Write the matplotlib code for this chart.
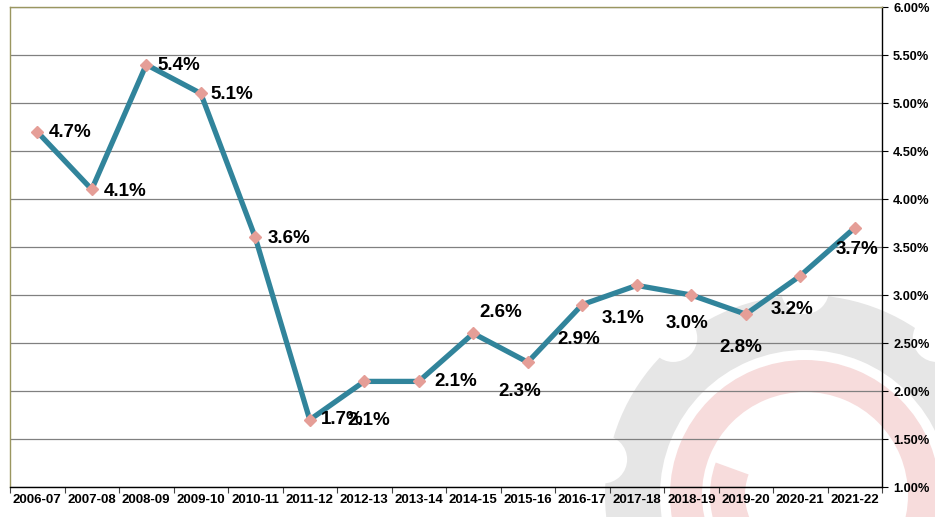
import math
import matplotlib
matplotlib.use("Agg")
import matplotlib.pyplot as plt
from matplotlib.patches import Wedge, Circle
from matplotlib.ticker import FuncFormatter

years = ['2006-07', '2007-08', '2008-09', '2009-10', '2010-11', '2011-12', '2012-13', '2013-14',
         '2014-15', '2015-16', '2016-17', '2017-18', '2018-19', '2019-20', '2020-21', '2021-22']
values = [4.7, 4.1, 5.4, 5.1, 3.6, 1.7, 2.1, 2.1, 2.6, 2.3, 2.9, 3.1, 3.0, 2.8, 3.2, 3.7]
labels = ['4.7%', '4.1%', '5.4%', '5.1%', '3.6%', '1.7%', '2.1%', '2.1%',
          '2.6%', '2.3%', '2.9%', '3.1%', '3.0%', '2.8%', '3.2%', '3.7%']
# label offsets in pixels (text centre relative to point)
offsets = [(33, -1), (33, -2), (33, -1), (31, -1), (34, -1), (32, 0), (5, -39), (37, 0),
           (28, 21), (-8, -29), (-3, -35), (-14, -33), (-4, -28), (-5, -33), (-8, -34), (2, -22)]
yticks = [1.0, 1.5, 2.0, 2.5, 3.0, 3.5, 4.0, 4.5, 5.0, 5.5, 6.0]

plt.rcParams['font.family'] = ['Liberation Sans', 'DejaVu Sans']
plt.rcParams['font.weight'] = 'bold'

fig = plt.figure(figsize=(9.35, 5.17), dpi=100)
W, H = 935, 517

# faint watermark behind the chart
bg = fig.add_axes([0, 0, 1, 1], zorder=0)
bg.set_xlim(0, W)
bg.set_ylim(H, 0)
bg.axis('off')
bg.add_patch(Wedge((805, 495), 200, 0, 360, width=55, color='#e6e6e6', lw=0))
for ang in range(0, 360, 40):
    px = 805 + 205 * math.cos(math.radians(ang + 10))
    py = 495 - 205 * math.sin(math.radians(ang + 10))
    bg.add_patch(Circle((px, py), 24, color='white', lw=0))
bg.add_patch(Wedge((805, 495), 135, 0, 360, width=32, color='#f7dcdc', lw=0))
bg.add_patch(Wedge((805, 495), 95, 100, 200, width=35, color='#f7dcdc', lw=0))

ax = fig.add_axes([10 / W, 1 - 487 / H, 872 / W, 480 / H], zorder=1)
ax.patch.set_alpha(0)

x = list(range(len(years)))
ax.plot(x, values, color='#31849B', lw=3.8, zorder=3, solid_capstyle='round')
ax.plot(x, values, ls='none', marker='D', ms=6, mfc='#E59E97', mec='#E59E97', zorder=4)
for xi, v, lab, (dx, dy) in zip(x, values, labels, offsets):
    ax.annotate(lab, (xi, v), xytext=(dx, dy), textcoords='offset pixels',
                ha='center', va='center', fontsize=13.5, fontweight='bold', color='black', zorder=5)

ax.set_xlim(-0.5, len(years) - 0.5)
ax.set_ylim(1.0, 6.0)
ax.set_xticks(x)
ax.set_xticklabels(years, fontsize=9.5, fontweight='bold')
ax.set_xticks([i - 0.5 for i in range(len(years) + 1)], minor=True)
ax.tick_params(axis='x', which='major', length=0, pad=5)
ax.tick_params(axis='x', which='minor', length=4, width=0.8, color='#444444')

ax.yaxis.tick_right()
ax.set_yticks(yticks)
ax.yaxis.set_major_formatter(FuncFormatter(lambda v, p: f'{v:.2f}%'))
ax.tick_params(axis='y', which='major', length=4, width=0.8, labelsize=9.2, pad=4)
for lab in ax.get_yticklabels():
    lab.set_fontweight('bold')

ax.grid(axis='y', color='#808080', lw=0.9)
ax.set_axisbelow(True)
ax.spines['left'].set_color('#9a9660')
ax.spines['top'].set_color('#9a9660')
ax.spines['right'].set_color('black')
ax.spines['bottom'].set_color('black')
for s in ax.spines.values():
    s.set_linewidth(1.0)

fig.savefig('out.png', dpi=100)
